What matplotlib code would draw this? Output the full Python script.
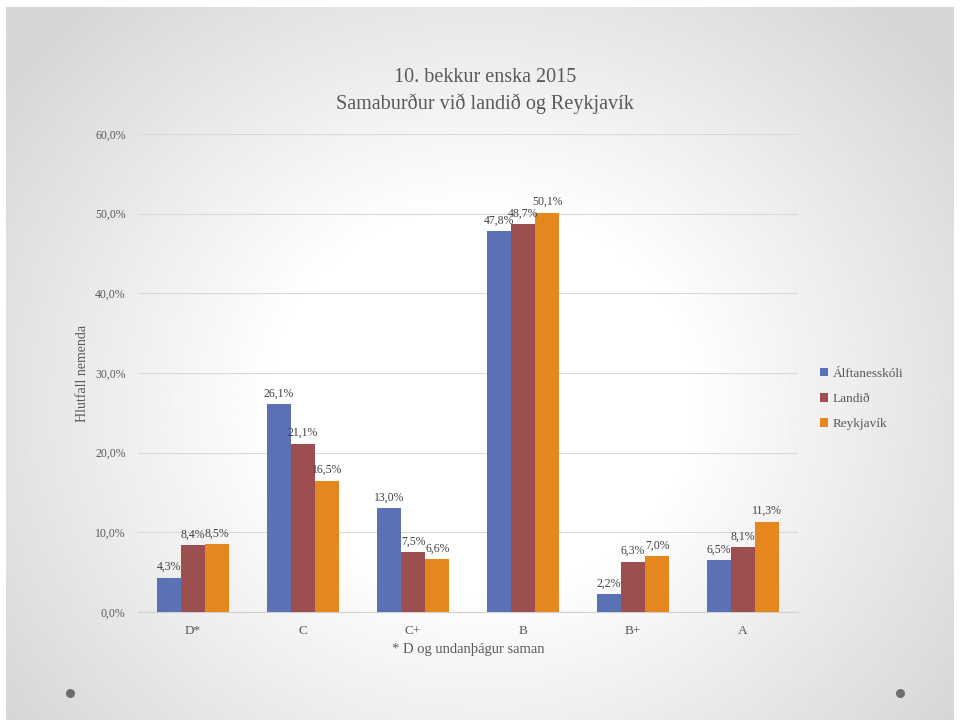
import numpy as np
import matplotlib
matplotlib.use("Agg")
import matplotlib.pyplot as plt

categories = ["D*", "C", "C+", "B", "B+", "A"]
series_names = ["Álftanesskóli", "Landið", "Reykjavík"]
alftanes = [4.3, 26.1, 13.0, 47.8, 2.2, 6.5]
landid = [8.4, 21.1, 7.5, 48.7, 6.3, 8.1]
reykjavik = [8.5, 16.5, 6.6, 50.1, 7.0, 11.3]
yticks = [0, 10, 20, 30, 40, 50, 60]
colors = ["#5b71b6", "#9c4e50", "#e5861f"]

plt.rcParams['font.family'] = ['Liberation Serif', 'DejaVu Serif']

fig = plt.figure(figsize=(9.6, 7.25), dpi=100)
fig.patch.set_facecolor("white")

# slide background with radial gradient
bg = fig.add_axes([6/960, 5/725, 948/960, 713/725])
bg.set_axis_off()
h, w = 300, 400
yy, xx = np.mgrid[0:h, 0:w]
cx, cy = w * 0.5, h * 0.55
r = np.sqrt(((xx - cx) / (w * 0.62)) ** 2 + ((yy - cy) / (h * 0.75)) ** 2)
val = 1.0 - 0.16 * np.clip(r - 0.35, 0, None) / 0.65
val = np.clip(val, 0.84, 1.0)
bg.imshow(val, cmap="gray", vmin=0, vmax=1, aspect="auto", extent=[0, 1, 0, 1], interpolation="bilinear")
bg.set_xlim(0, 1)
bg.set_ylim(0, 1)
for px in (70, 900):
    fx = (px - 6) / 948
    fy = 1 - (693 - 7) / 713
    bg.plot([fx], [fy], marker="o", markersize=6.5, color="#6e6e6e", mec="none")

ax = fig.add_axes([138/960, 1 - 612/725, (798 - 138)/960, (612 - 134)/725])
ax.patch.set_alpha(0)

x = np.arange(len(categories))
bw = 0.22
for i, (vals, c, name) in enumerate(zip([alftanes, landid, reykjavik], colors, series_names)):
    pos = x + (i - 1) * bw
    ax.bar(pos, vals, width=bw, color=c, label=name, zorder=3)
    for xp, v in zip(pos, vals):
        ax.text(xp, v + 0.6, f"{v:.1f}%".replace(".", ","), ha="center", va="bottom",
                fontsize=8.5, color="#404040", zorder=4)

ax.set_ylim(0, 60)
ax.set_xlim(-0.5, len(categories) - 0.5)
ax.set_yticks(yticks)
ax.set_yticklabels([f"{t:.1f}%".replace(".", ",") for t in yticks], fontsize=8.5, color="#595959")
ax.set_xticks(x)
ax.set_xticklabels(categories, fontsize=9.5, color="#595959")
ax.tick_params(axis="y", length=0, pad=9)
ax.tick_params(axis="x", length=0, pad=9)
ax.grid(axis="y", color="#d9d9d9", lw=0.8, zorder=0)
for s in ("top", "right", "left"):
    ax.spines[s].set_visible(False)
ax.spines["bottom"].set_color("#d0d0d0")
ax.set_ylabel("Hlutfall nemenda", fontsize=10, color="#595959", labelpad=4)
ax.set_xlabel("* D og undanþágur saman", fontsize=10.5, color="#595959", labelpad=5)

fig.text(485/960, 1 - 78/725, "10. bekkur enska 2015", ha="center", va="center", fontsize=14.5, color="#595959")
fig.text(485/960, 1 - 104/725, "Samaburður við landið og Reykjavík", ha="center", va="center", fontsize=14.5, color="#595959")

handles, labels = ax.get_legend_handles_labels()
leg = fig.legend(handles, labels, loc="center left", bbox_to_anchor=(808/960, 1 - 399/725),
                 frameon=False, fontsize=9.5, handlelength=0.6, handleheight=0.6,
                 labelspacing=1.0, handletextpad=0.4)
for t in leg.get_texts():
    t.set_color("#595959")

fig.savefig("out.png", dpi=100)
